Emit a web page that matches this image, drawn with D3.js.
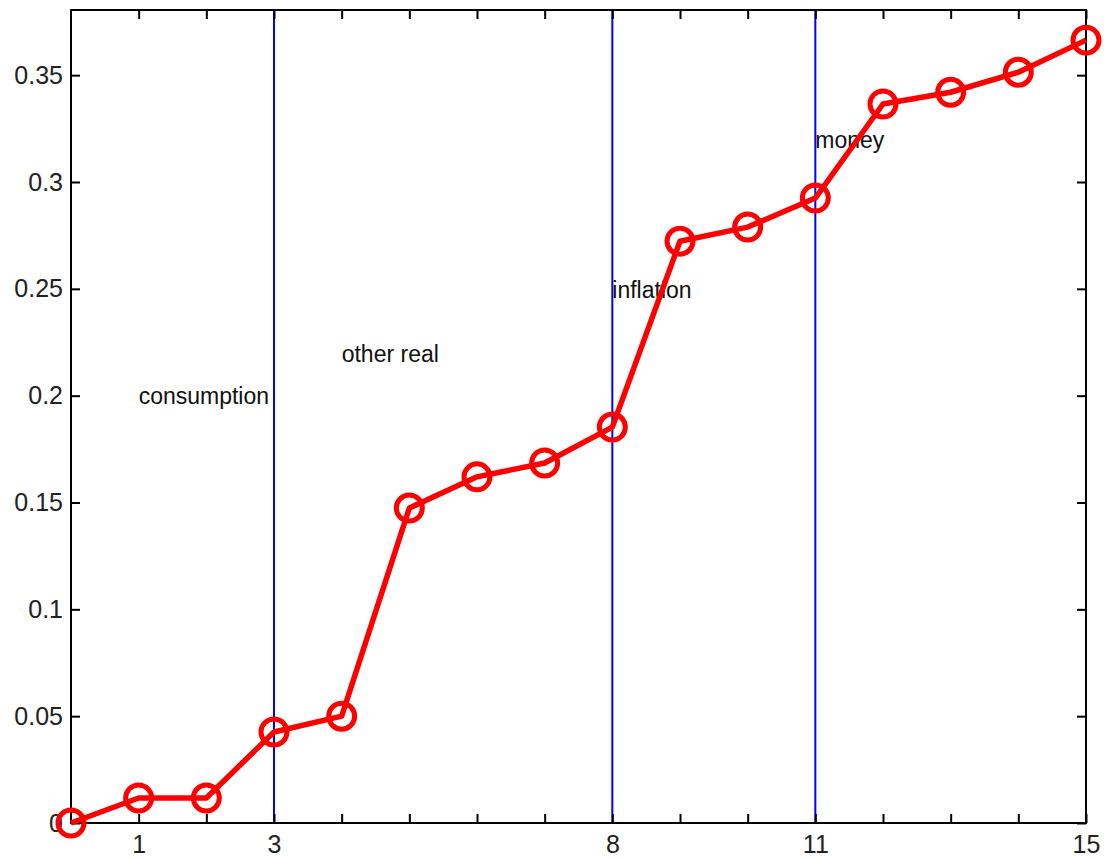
<!DOCTYPE html>
<html>
<head>
<meta charset="utf-8">
<script src="https://cdn.jsdelivr.net/npm/d3@7"></script>
<style>
  body { margin: 0; background: #fff; }
  text { font-family: "Liberation Sans", Arial, sans-serif; }
</style>
</head>
<body>
<svg width="1104" height="859"></svg>
<script>
const svg = d3.select('svg');

// data
const xValues = [0, 1, 2, 3, 4, 5, 6, 7, 8, 9, 10, 11, 12, 13, 14, 15];
const yValues = [0, 0.0117, 0.0117, 0.0426, 0.050, 0.1474, 0.162, 0.1685,
                 0.1853, 0.2723, 0.2789, 0.2925, 0.3365, 0.342, 0.3514, 0.3664];
const xTicks = [1, 2, 3, 4, 5, 6, 7, 8, 9, 10, 11, 12, 13, 14, 15];
const xTickLabels = [1, 3, 8, 11, 15];
const yTicks = [0, 0.05, 0.1, 0.15, 0.2, 0.25, 0.3, 0.35];
const dividers = [3, 8, 11];
const groupNames = ['consumption', 'other real', 'inflation', 'money'];
const groupX = [1, 4, 8, 11];
const groupY = [0.2, 0.22, 0.25, 0.32];

const margin = {top: 10, right: 18, bottom: 36, left: 71};
const width = +svg.attr('width');
const height = +svg.attr('height');
const innerwidth = width - margin.left - margin.right;
const innerheight = height - margin.top - margin.bottom;

const g = svg.append('g')
    .attr('transform', 'translate(' + margin.left + ',' + margin.top + ')');

const xscale = d3.scaleLinear().domain([0, 15]).range([0, innerwidth]);
const yscale = d3.scaleLinear().domain([0, 0.3805]).range([innerheight, 0]);

// divider lines
g.selectAll('.divider')
  .data(dividers)
  .enter().append('line')
    .attr('class', 'divider')
    .attr('x1', d => xscale(d)).attr('x2', d => xscale(d))
    .attr('y1', 0).attr('y2', innerheight)
    .attr('stroke', '#0000ff')
    .attr('stroke-width', 2);

// axes box
g.append('rect')
    .attr('width', innerwidth).attr('height', innerheight)
    .attr('fill', 'none').attr('stroke', '#000').attr('stroke-width', 2);

const tickFmt = d => xTickLabels.includes(d) ? d : '';

const xaxisG = g.append('g')
    .attr('transform', 'translate(0,' + innerheight + ')')
    .call(d3.axisBottom(xscale).tickValues(xTicks).tickFormat(tickFmt)
      .tickSize(-9).tickPadding(12));
const xTopG = g.append('g')
    .call(d3.axisTop(xscale).tickValues(xTicks).tickFormat('').tickSize(-9));

const yFmt = d => d === 0 ? '0' : d3.format('.2~f')(d);
const yaxisG = g.append('g')
    .call(d3.axisLeft(yscale).tickValues(yTicks).tickFormat(yFmt)
      .tickSize(-9).tickPadding(8));
const yRightG = g.append('g')
    .attr('transform', 'translate(' + innerwidth + ',0)')
    .call(d3.axisRight(yscale).tickValues(yTicks).tickFormat('').tickSize(-9));

[xaxisG, xTopG, yaxisG, yRightG].forEach(a => {
  a.select('.domain').remove();
  a.selectAll('.tick line').attr('stroke', '#000').attr('stroke-width', 2);
  a.selectAll('text').attr('font-size', 25).attr('fill', '#222');
});

// group labels
g.selectAll('.glabel')
  .data(groupNames)
  .enter().append('text')
    .attr('class', 'glabel')
    .attr('x', (d, i) => xscale(groupX[i]))
    .attr('y', (d, i) => yscale(groupY[i]))
    .attr('dy', '0.38em')
    .attr('font-size', 23)
    .attr('fill', '#111')
    .text(d => d);

// the series
const pts = xValues.map((x, i) => [x, yValues[i]]);
g.append('path')
    .datum(pts)
    .attr('fill', 'none')
    .attr('stroke', '#ff0000')
    .attr('stroke-width', 5.5)
    .attr('stroke-linejoin', 'round')
    .attr('d', d3.line().x(d => xscale(d[0])).y(d => yscale(d[1])));

g.selectAll('.pt')
  .data(pts)
  .enter().append('circle')
    .attr('class', 'pt')
    .attr('cx', d => xscale(d[0]))
    .attr('cy', d => yscale(d[1]))
    .attr('r', 13)
    .attr('fill', 'none')
    .attr('stroke', '#ff0000')
    .attr('stroke-width', 5);
</script>
</body>
</html>
